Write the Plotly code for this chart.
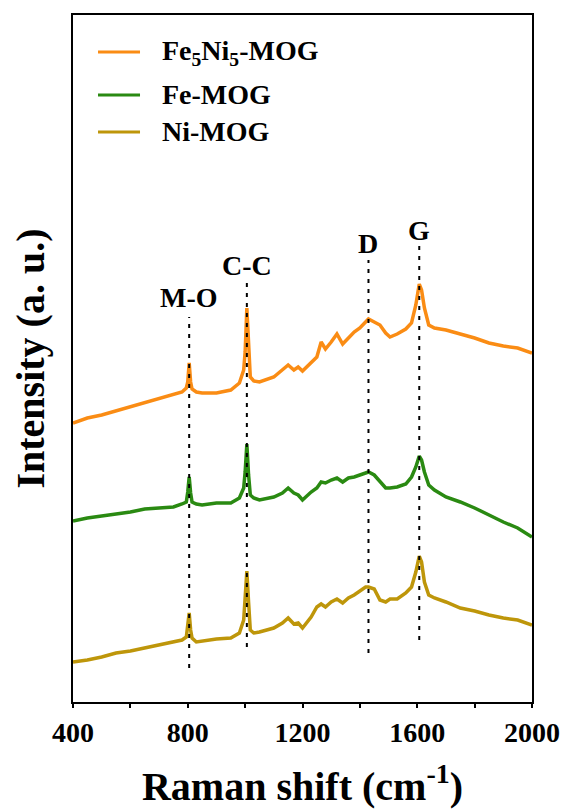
import plotly.graph_objects as go

# Raman shift (cm^-1) sampling points
raman_shift = [400, 450, 500, 550, 600, 650, 700, 750, 780, 795, 800, 805, 810, 815,
               830, 850, 900, 950, 980, 995, 1000, 1006, 1012, 1018, 1030, 1050, 1100,
               1130, 1150, 1170, 1185, 1200, 1230, 1250, 1265, 1280, 1300, 1320, 1340,
               1360, 1380, 1400, 1420, 1430, 1450, 1470, 1490, 1505, 1530, 1560, 1580,
               1595, 1607, 1615, 1625, 1640, 1660, 1700, 1750, 1800, 1850, 1900, 1950, 2000]

# Intensities (a. u., vertically offset spectra)
fe5ni5_mog = [279, 284, 287, 291, 295, 299, 303, 307, 310, 314, 320, 339, 320, 313,
              310, 309, 309, 312, 319, 332, 350, 394, 350, 325, 321, 320, 325,
              332, 337, 332, 335, 331, 340, 345, 360, 353, 360, 368, 358,
              364, 370, 374, 380, 383, 380, 377, 369, 365, 368, 373, 379,
              397, 418, 412, 394, 377, 374, 372, 368, 364, 359, 356, 354, 349]

fe_mog = [181, 184, 186, 188, 190, 193, 194, 195, 198, 200, 210, 225, 209, 200,
          198, 197, 199, 199, 204, 214, 230, 258, 227, 207, 204, 202, 205,
          209, 214, 209, 207, 202, 210, 214, 220, 219, 222, 224, 220,
          224, 225, 227, 229, 230, 227, 220, 214, 214, 215, 218, 225,
          235, 246, 242, 230, 217, 212, 205, 200, 194, 187, 180, 174, 165]

ni_mog = [40, 42, 45, 49, 51, 54, 57, 60, 62, 65, 75, 89, 72, 64,
          60, 61, 63, 64, 69, 82, 100, 131, 100, 72, 69, 70, 74,
          79, 84, 78, 79, 74, 85, 95, 98, 95, 100, 103, 99,
          104, 107, 111, 115, 115, 113, 102, 100, 103, 103, 109, 115,
          130, 146, 140, 120, 107, 104, 100, 94, 91, 87, 84, 82, 77]

series_names = ["Fe<sub>5</sub>Ni<sub>5</sub>-MOG", "Fe-MOG", "Ni-MOG"]
series_values = [fe5ni5_mog, fe_mog, ni_mog]
series_colors = ["#FA8C14", "#2A8A12", "#BE960A"]

# Band assignments: label, position, dotted guide extent, label height
band_labels = ["M-O", "C-C", "D", "G"]
band_positions = [805, 1006, 1430, 1607]
band_guide_low = [34, 55, 49, 62]
band_guide_high = [385, 420, 442, 457]
band_label_y = [405, 437, 459, 472]

x_tick_values = [400, 800, 1200, 1600, 2000]
x_tick_labels = ["400", "800", "1200", "1600", "2000"]

FONT = "Liberation Serif, Times New Roman, serif"

fig = go.Figure()

for name, vals, col in zip(series_names, series_values, series_colors):
    fig.add_trace(go.Scatter(x=raman_shift, y=vals, mode="lines", name=name,
                             line=dict(color=col, width=3.5), showlegend=False))

# Dotted guides and band labels
for lab, pos, lo, hi, ly in zip(band_labels, band_positions, band_guide_low,
                                band_guide_high, band_label_y):
    fig.add_shape(type="line", xref="x", yref="y", x0=pos, x1=pos, y0=lo, y1=hi,
                  line=dict(color="black", width=2, dash="4px,6px"))
    fig.add_annotation(x=pos, y=ly, xref="x", yref="y", text=f"<b>{lab}</b>",
                       showarrow=False, font=dict(family=FONT, size=28, color="black"),
                       xanchor="center", yanchor="middle")

# Legend drawn as line samples with labels
legend_y = [0.946, 0.8836, 0.8297]
for name, col, ly in zip(series_names, series_colors, legend_y):
    fig.add_shape(type="line", xref="paper", yref="paper", x0=0.0545, x1=0.146,
                  y0=ly, y1=ly, line=dict(color=col, width=3))
    fig.add_annotation(x=0.1895, y=ly, xref="paper", yref="paper", text=f"<b>{name}</b>",
                       showarrow=False, font=dict(family=FONT, size=28, color="black"),
                       xanchor="left", yanchor="middle")

fig.update_layout(
    width=568, height=810,
    margin=dict(l=73, r=36, t=15, b=108),
    paper_bgcolor="white", plot_bgcolor="white",
    font=dict(family=FONT, color="black"),
    xaxis=dict(
        range=[400, 2000], tickvals=x_tick_values,
        ticktext=[f"<b>{t}</b>" for t in x_tick_labels],
        ticks="outside", ticklen=4, tickwidth=2, tickcolor="black",
        minor=dict(dtick=200, ticks="outside", ticklen=4, tickwidth=2, tickcolor="black"),
        showline=True, linewidth=2, linecolor="black", mirror=True,
        showgrid=False, zeroline=False, automargin=False,
        tickfont=dict(family=FONT, size=28, color="black"),
        title=dict(text="<b>Raman shift (cm<sup>-1</sup>)</b>",
                   font=dict(family=FONT, size=40, color="black"), standoff=25),
    ),
    yaxis=dict(
        range=[0, 687], showticklabels=False, ticks="",
        showline=True, linewidth=2, linecolor="black", mirror=True,
        showgrid=False, zeroline=False, automargin=False,
        title=dict(text="<b>Intensity (a. u.)</b>",
                   font=dict(family=FONT, size=40, color="black"), standoff=14),
    ),
)

fig.write_html("out.html")
